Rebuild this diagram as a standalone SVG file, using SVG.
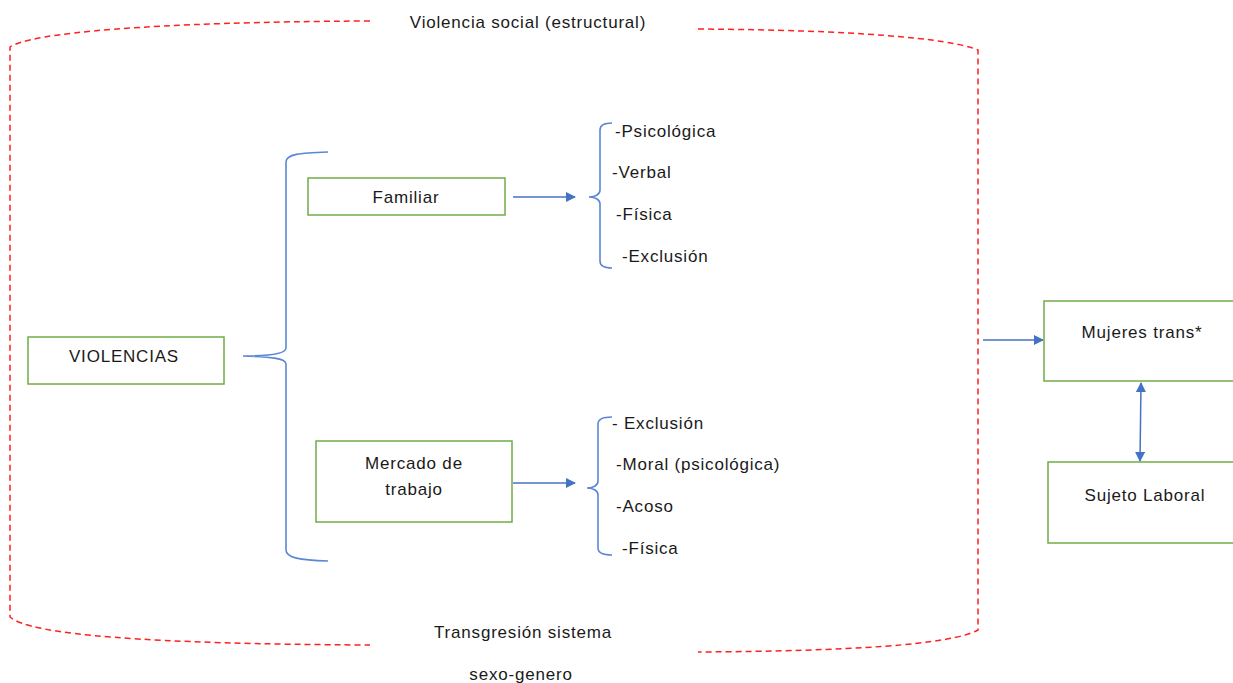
<svg xmlns="http://www.w3.org/2000/svg" width="1233" height="683" viewBox="0 0 1233 683">
<defs>
<marker id="ah" viewBox="0 0 10 10" refX="9" refY="5" markerWidth="11" markerHeight="10" markerUnits="userSpaceOnUse" orient="auto-start-reverse">
<path d="M0,0 L10,5 L0,10 z" fill="#4472C4"/>
</marker>
<style>
.t{font-family:"Liberation Sans",Arial,sans-serif;font-size:17px;letter-spacing:0.8px;fill:#1a1a1a}
.m{text-anchor:middle}
.box{fill:#fff;stroke:#70AD47;stroke-width:1.5}
.br{fill:none;stroke:#5B87D6;stroke-width:1.6}
.ar{fill:none;stroke:#4472C4;stroke-width:1.5}
.rd{fill:none;stroke:#FF2020;stroke-width:1.5;stroke-dasharray:6 4}
</style>
</defs>
<rect width="1233" height="683" fill="#fff"/>
<g id="frame">
<path class="rd" d="M370,21 C150,22 30,33 10,47 L10,617 C30,635 150,644 370,645"/>
<path class="rd" d="M698,29 C850,30 950,38 978,50 L978,630 C950,645 850,651 698,652"/>
<text class="t m" x="528" y="28">Violencia social (estructural)</text>
<text class="t m" x="523" y="638">Transgresión sistema</text>
<text class="t m" x="521" y="680">sexo-genero</text>
</g>
<g id="connectors">
<path class="br" d="M328,152 C300,153 286,154 286,162 L286,348 C286,354 270,356 243,356 C270,357 286,358 286,364 L286,550 C286,558 300,560 328,561"/>
<path class="br" d="M612,123 C604,123 600,125 600,130 L600,190 C600,194 596,197 589,197 C596,197 600,200 600,204 L600,261 C600,266 604,268 612,268"/>
<path class="br" d="M612,417 C603,417 598,419 598,424 L598,481 C598,485 594,488 587,488 C594,488 598,491 598,495 L598,548 C598,553 603,555 612,555"/>
<line class="ar" x1="513" y1="197" x2="575" y2="197" marker-end="url(#ah)"/>
<line class="ar" x1="513" y1="483" x2="575" y2="483" marker-end="url(#ah)"/>
<line class="ar" x1="983" y1="340" x2="1043" y2="340" marker-end="url(#ah)"/>
<line class="ar" x1="1141" y1="383" x2="1140" y2="461" marker-start="url(#ah)" marker-end="url(#ah)"/>
</g>
<g id="violencias">
<rect class="box" x="28" y="337" width="196" height="47"/>
<text class="t m" x="124" y="362">VIOLENCIAS</text>
</g>
<g id="familiar">
<rect class="box" x="308" y="178" width="197" height="37"/>
<text class="t m" x="406" y="203">Familiar</text>
</g>
<g id="mercado">
<rect class="box" x="316" y="441" width="196" height="81"/>
<text class="t m" x="414" y="469">Mercado de</text>
<text class="t m" x="414" y="495">trabajo</text>
</g>
<g id="familiar-list">
<text class="t" x="615" y="137">-Psicológica</text>
<text class="t" x="612" y="178">-Verbal</text>
<text class="t" x="616" y="220">-Física</text>
<text class="t" x="622" y="262">-Exclusión</text>
</g>
<g id="mercado-list">
<text class="t" x="612" y="429">- Exclusión</text>
<text class="t" x="616" y="470">-Moral (psicológica)</text>
<text class="t" x="616" y="512">-Acoso</text>
<text class="t" x="622" y="554">-Física</text>
</g>
<g id="mujeres">
<rect class="box" x="1044" y="301" width="200" height="80"/>
<text class="t m" x="1142" y="338">Mujeres trans*</text>
</g>
<g id="sujeto">
<rect class="box" x="1048" y="462" width="200" height="81"/>
<text class="t m" x="1145" y="501">Sujeto Laboral</text>
</g>
</svg>
